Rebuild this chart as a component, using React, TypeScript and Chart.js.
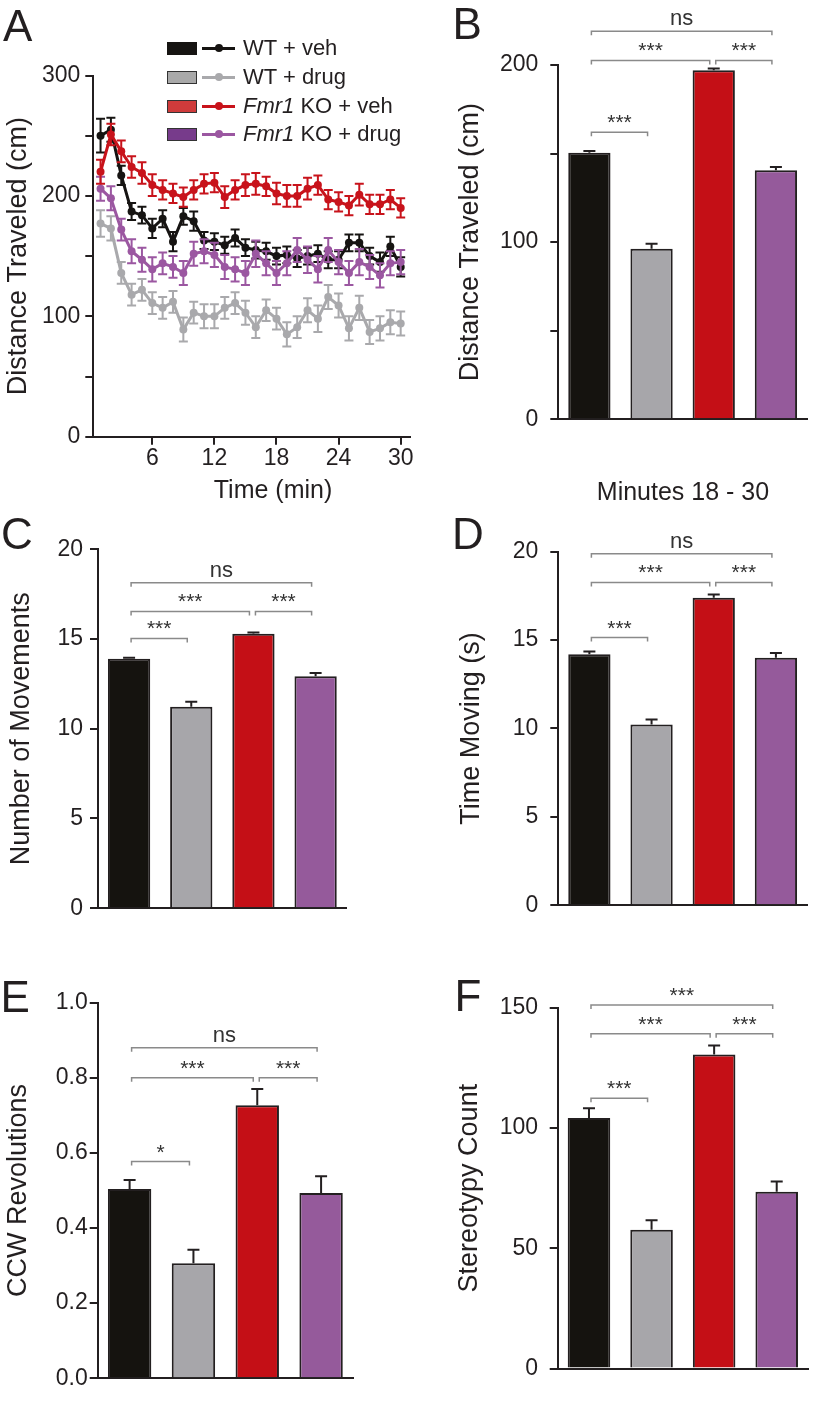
import React, { useEffect, useRef } from 'react';
import { Chart, registerables } from 'chart.js';

Chart.register(...registerables);

const FONT = '"Liberation Sans", Arial, Helvetica, sans-serif';
const INK = '#231f20';

// ---------- shared ----------
const groups = ['WT + veh', 'WT + drug', 'Fmr1 KO + veh', 'Fmr1 KO + drug'];
const barColors = ['#15130f', '#a7a6aa', '#c40f16', '#955a9b'];
const lineColors = ['#161412', '#a9a9ac', '#c8131b', '#9b57a1'];
const swatchColors = ['#161412', '#a9a9a9', '#cf3b3b', '#773b8b'];

// ---------- panel A : distance per minute ----------
const minutes = [1, 2, 3, 4, 5, 6, 7, 8, 9, 10, 11, 12, 13, 14, 15, 16, 17, 18, 19, 20, 21, 22, 23, 24, 25, 26, 27, 28, 29, 30];
const timeTicks = [6, 12, 18, 24, 30];
const distTicksA = [0, 50, 100, 150, 200, 250, 300];
const wtVeh = [250, 255, 217, 187, 184, 173, 181, 162, 183, 179, 163, 162, 159, 165, 157, 155, 154, 150, 151, 148, 150, 152, 147, 147, 161, 161, 150, 145, 158, 141];
const wtVehErr = [14, 10, 8, 7, 7, 8, 7, 8, 7, 8, 7, 7, 7, 7, 7, 7, 7, 7, 7, 7, 7, 7, 7, 7, 7, 7, 7, 8, 8, 8];
const wtDrug = [177, 173, 136, 118, 122, 111, 107, 112, 89, 103, 100, 100, 107, 111, 103, 91, 105, 98, 85, 91, 105, 98, 116, 109, 90, 107, 87, 90, 95, 94];
const wtDrugErr = [11, 10, 9, 9, 9, 9, 9, 9, 10, 9, 10, 10, 9, 9, 10, 9, 9, 9, 10, 9, 10, 11, 10, 10, 10, 10, 10, 10, 10, 10];
const koVeh = [220, 251, 237, 224, 219, 209, 205, 202, 199, 205, 210, 211, 199, 205, 209, 210, 208, 202, 200, 200, 206, 209, 197, 195, 192, 201, 193, 193, 197, 190];
const koVehErr = [10, 9, 9, 9, 9, 9, 8, 8, 8, 8, 8, 8, 9, 8, 9, 9, 8, 9, 9, 9, 9, 8, 8, 8, 8, 9, 8, 8, 8, 8];
const koDrug = [206, 198, 172, 154, 147, 139, 144, 141, 136, 152, 154, 151, 141, 139, 136, 152, 144, 136, 144, 155, 147, 139, 155, 145, 136, 145, 141, 134, 144, 145];
const koDrugErr = [10, 10, 9, 10, 10, 10, 9, 9, 10, 10, 10, 10, 10, 10, 10, 11, 10, 10, 10, 10, 11, 11, 10, 10, 10, 11, 10, 10, 10, 10];

// ---------- panel B : distance traveled, minutes 18-30 ----------
const distance = [150.5, 96.3, 197, 140.6];
const distanceErr = [1, 2.7, 1, 1.8];
const distTicksB = [0, 50, 100, 150, 200];
const distanceSig = [
  { from: 0, to: 3, at: 219, label: 'ns' },
  { from: 0, to: 2, at: 202.6, label: '***' },
  { from: 2, to: 3, at: 202.6, label: '***' },
  { from: 0, to: 1, at: 162, label: '***' },
];

// ---------- panel C : number of movements ----------
const movements = [13.9, 11.23, 15.3, 12.93];
const movementsErr = [0.06, 0.27, 0.06, 0.18];
const ticks20 = [0, 5, 10, 15, 20];
const movementsSig = [
  { from: 0, to: 3, at: 18.14, label: 'ns' },
  { from: 0, to: 2, at: 16.54, label: '***' },
  { from: 2, to: 3, at: 16.54, label: '***' },
  { from: 0, to: 1, at: 15.03, label: '***' },
];

// ---------- panel D : time moving ----------
const timeMoving = [14.2, 10.23, 17.4, 14.0];
const timeMovingErr = [0.15, 0.27, 0.18, 0.27];
const timeMovingSig = [
  { from: 0, to: 3, at: 19.88, label: 'ns' },
  { from: 0, to: 2, at: 18.26, label: '***' },
  { from: 2, to: 3, at: 18.26, label: '***' },
  { from: 0, to: 1, at: 15.14, label: '***' },
];

// ---------- panel E : CCW revolutions ----------
const ccw = [0.504, 0.306, 0.727, 0.493];
const ccwErr = [0.024, 0.036, 0.043, 0.045];
const ccwTicks = [0, 0.2, 0.4, 0.6, 0.8, 1.0];
const ccwSig = [
  { from: 0, to: 3, at: 0.88, label: 'ns' },
  { from: 0, to: 2, at: 0.8, label: '***' },
  { from: 2, to: 3, at: 0.8, label: '***' },
  { from: 0, to: 1, at: 0.577, label: '*' },
];

// ---------- panel F : stereotypy count ----------
const stereotypy = [104.2, 57.7, 130.6, 73.5];
const stereotypyErr = [4, 4, 3.7, 4.3];
const stereoTicks = [0, 50, 100, 150];
const stereotypySig = [
  { from: 0, to: 3, at: 151.1, label: '***' },
  { from: 0, to: 2, at: 139.2, label: '***' },
  { from: 2, to: 3, at: 139.2, label: '***' },
  { from: 0, to: 1, at: 112.4, label: '***' },
];

type Sig = { from: number; to: number; at: number; label: string };
type Box = { x: number; y: number; w: number; h: number; padTop: number; padRight: number; padBottom: number; yWidth: number; xHeight: number };

function yAxis(ticksArr: number[], label: (v: number) => string, title: string, tickPad: number, titlePad: number, width: number) {
  return {
    type: 'linear' as const,
    min: ticksArr[0],
    max: ticksArr[ticksArr.length - 1],
    afterBuildTicks: (s: any) => {
      s.ticks = ticksArr.map((v) => ({ value: v }));
    },
    afterFit: (s: any) => {
      s.width = width;
    },
    ticks: {
      callback: (v: any) => label(Number(v)),
      font: { family: FONT, size: 23 },
      color: INK,
      padding: tickPad,
      autoSkip: false,
    },
    grid: { display: true, drawOnChartArea: false, drawTicks: true, tickLength: 8, color: INK, lineWidth: 2 },
    border: { display: true, color: INK, width: 2 },
    title: { display: true, text: title, font: { family: FONT, size: 27 }, color: INK, padding: { top: titlePad, bottom: 0 } },
  };
}

function sigPlugin(brackets: Sig[]) {
  return {
    id: 'sig',
    afterDraw(chart: any) {
      const ctx = chart.ctx;
      const meta = chart.getDatasetMeta(0);
      const ys = chart.scales.y;
      ctx.save();
      ctx.strokeStyle = '#8a8a8a';
      ctx.lineWidth = 1.5;
      ctx.fillStyle = '#333';
      ctx.textAlign = 'center';
      ctx.textBaseline = 'alphabetic';
      for (const b of brackets) {
        const x1 = meta.data[b.from].x + 2;
        const x2 = meta.data[b.to].x - 4;
        const y = ys.getPixelForValue(b.at);
        ctx.beginPath();
        ctx.moveTo(x1, y + 4);
        ctx.lineTo(x1, y);
        ctx.lineTo(x2, y);
        ctx.lineTo(x2, y + 4);
        ctx.stroke();
        const ns = b.label === 'ns';
        ctx.font = `${ns ? 22 : 21}px ${FONT}`;
        ctx.fillText(b.label, (x1 + x2) / 2, y - (ns ? 6 : 3));
      }
      ctx.restore();
    },
  };
}

function barErrPlugin(values: number[], errors: number[]) {
  return {
    id: 'barErr',
    afterDatasetsDraw(chart: any) {
      const ctx = chart.ctx;
      const meta = chart.getDatasetMeta(0);
      const ys = chart.scales.y;
      ctx.save();
      ctx.strokeStyle = INK;
      ctx.lineWidth = 2;
      meta.data.forEach((el: any, i: number) => {
        const top = ys.getPixelForValue(values[i] + errors[i]);
        ctx.beginPath();
        ctx.moveTo(el.x, el.y);
        ctx.lineTo(el.x, top);
        ctx.moveTo(el.x - 6, top);
        ctx.lineTo(el.x + 6, top);
        ctx.stroke();
      });
      ctx.restore();
    },
  };
}

function ChartBox({ box, build }: { box: Box; build: (c: HTMLCanvasElement) => Chart }) {
  const ref = useRef<HTMLCanvasElement>(null);
  useEffect(() => {
    const ch = build(ref.current as HTMLCanvasElement);
    return () => ch.destroy();
  }, []);
  return (
    <canvas
      ref={ref}
      width={box.w}
      height={box.h}
      style={{ position: 'absolute', left: box.x, top: box.y, width: box.w, height: box.h }}
    />
  );
}

type BarSpec = {
  box: Box;
  values: number[];
  errors: number[];
  ticksArr: number[];
  label: (v: number) => string;
  title: string;
  tickPad: number;
  titlePad: number;
  sig: Sig[];
};

function BarPanel({ spec }: { spec: BarSpec }) {
  const { box } = spec;
  const build = (c: HTMLCanvasElement) =>
    new Chart(c, {
      type: 'bar',
      data: {
        labels: groups,
        datasets: [
          {
            data: spec.values,
            backgroundColor: barColors,
            borderColor: INK,
            borderWidth: 2,
            categoryPercentage: 1,
            barPercentage: 0.68,
          },
        ],
      },
      options: {
        responsive: false,
        maintainAspectRatio: false,
        animation: false,
        devicePixelRatio: 1,
        layout: { padding: { top: box.padTop, right: box.padRight, bottom: box.padBottom, left: 0 } },
        plugins: { legend: { display: false }, tooltip: { enabled: false } },
        scales: {
          x: {
            type: 'category',
            ticks: { display: false },
            grid: { display: false },
            border: { display: true, color: INK, width: 2 },
            afterFit: (s: any) => {
              s.height = box.xHeight;
            },
          },
          y: yAxis(spec.ticksArr, spec.label, spec.title, spec.tickPad, spec.titlePad, box.yWidth) as any,
        },
      },
      plugins: [barErrPlugin(spec.values, spec.errors), sigPlugin(spec.sig)],
    });
  return <ChartBox box={box} build={build} />;
}

function LinePanel() {
  const box: Box = { x: 0, y: 40, w: 420, h: 470, padTop: 35.5, padRight: 10, padBottom: 4, yWidth: 93.3, xHeight: 69.3 };
  const series = [
    { label: groups[0], vals: wtVeh, err: wtVehErr, color: lineColors[0], order: 2 },
    { label: groups[1], vals: wtDrug, err: wtDrugErr, color: lineColors[1], order: 3 },
    { label: groups[2], vals: koVeh, err: koVehErr, color: lineColors[2], order: 0 },
    { label: groups[3], vals: koDrug, err: koDrugErr, color: lineColors[3], order: 1 },
  ];
  const errPlugin = {
    id: 'lineErr',
    beforeDatasetDraw(chart: any, args: any) {
      const s = series[args.index];
      const ctx = chart.ctx;
      const ys = chart.scales.y;
      ctx.save();
      ctx.strokeStyle = s.color;
      ctx.lineWidth = 2;
      args.meta.data.forEach((p: any, i: number) => {
        const hi = ys.getPixelForValue(s.vals[i] + s.err[i]);
        const lo = ys.getPixelForValue(s.vals[i] - s.err[i]);
        ctx.beginPath();
        ctx.moveTo(p.x, lo);
        ctx.lineTo(p.x, hi);
        ctx.moveTo(p.x - 4.5, hi);
        ctx.lineTo(p.x + 4.5, hi);
        ctx.moveTo(p.x - 4.5, lo);
        ctx.lineTo(p.x + 4.5, lo);
        ctx.stroke();
      });
      ctx.restore();
    },
  };
  const build = (c: HTMLCanvasElement) =>
    new Chart(c, {
      type: 'line',
      data: {
        datasets: series.map((s) => ({
          label: s.label,
          data: minutes.map((m, i) => ({ x: m, y: s.vals[i] })),
          borderColor: s.color,
          backgroundColor: s.color,
          pointBackgroundColor: s.color,
          pointBorderWidth: 0,
          pointRadius: 4,
          borderWidth: 3,
          tension: 0,
          order: s.order,
        })),
      },
      options: {
        responsive: false,
        maintainAspectRatio: false,
        animation: false,
        devicePixelRatio: 1,
        layout: { padding: { top: box.padTop, right: box.padRight, bottom: box.padBottom, left: 0 } },
        plugins: { legend: { display: false }, tooltip: { enabled: false } },
        scales: {
          x: {
            type: 'linear',
            min: 0.3,
            max: 30.9,
            afterBuildTicks: (s: any) => {
              s.ticks = timeTicks.map((v) => ({ value: v }));
            },
            afterFit: (s: any) => {
              s.height = box.xHeight;
            },
            ticks: { font: { family: FONT, size: 23 }, color: INK, padding: 0, autoSkip: false, maxRotation: 0 },
            grid: { display: true, drawOnChartArea: false, drawTicks: true, tickLength: 8, color: INK, lineWidth: 2 },
            border: { display: true, color: INK, width: 2 },
          },
          y: yAxis(distTicksA, (v) => (v % 100 === 0 ? String(v) : ''), 'Distance Traveled (cm)', 5, 2, box.yWidth) as any,
        },
      },
      plugins: [errPlugin],
    });
  return <ChartBox box={box} build={build} />;
}

function Letter({ ch, x, y }: { ch: string; x: number; y: number }) {
  return (
    <div style={{ position: 'absolute', left: x, top: y, fontSize: 44, lineHeight: '44px', fontFamily: FONT, color: INK, zIndex: 2 }}>
      {ch}
    </div>
  );
}

function Legend() {
  const centers = [48.4, 77.4, 106, 134.4];
  return (
    <>
      {groups.map((g, i) => {
        const cy = centers[i];
        const parts = g.startsWith('Fmr1') ? (
          <>
            <i>Fmr1</i>
            {g.slice(4)}
          </>
        ) : (
          g
        );
        return (
          <React.Fragment key={g}>
            <div
              style={{
                position: 'absolute',
                left: 167,
                top: cy - 6.5,
                width: 30,
                height: 13,
                boxSizing: 'border-box',
                background: swatchColors[i],
                border: `1.5px solid ${i === 0 ? swatchColors[0] : '#333'}`,
                zIndex: 2,
              }}
            />
            <div style={{ position: 'absolute', left: 202, top: cy - 1.5, width: 33, height: 3, background: lineColors[i], zIndex: 2 }} />
            <div
              style={{ position: 'absolute', left: 214.5, top: cy - 4, width: 8, height: 8, borderRadius: '50%', background: lineColors[i], zIndex: 2 }}
            />
            <div
              style={{
                position: 'absolute',
                left: 243,
                top: cy + 7.6 - 18.6,
                fontSize: 22,
                lineHeight: '22px',
                fontFamily: FONT,
                color: INK,
                whiteSpace: 'nowrap',
                zIndex: 2,
              }}
            >
              {parts}
            </div>
          </React.Fragment>
        );
      })}
    </>
  );
}

const specB: BarSpec = {
  box: { x: 450, y: 0, w: 363, h: 445, padTop: 65, padRight: 6, padBottom: 0, yWidth: 108.3, xHeight: 7.3 },
  values: distance,
  errors: distanceErr,
  ticksArr: distTicksB,
  label: (v) => (v % 100 === 0 ? String(v) : ''),
  title: 'Distance Traveled (cm)',
  tickPad: 12,
  titlePad: 4,
  sig: distanceSig,
};
const specC: BarSpec = {
  box: { x: 0, y: 520, w: 353, h: 409, padTop: 29.3, padRight: 6.3, padBottom: 0, yWidth: 98, xHeight: 8 },
  values: movements,
  errors: movementsErr,
  ticksArr: ticks20,
  label: (v) => String(v),
  title: 'Number of Movements',
  tickPad: 7,
  titlePad: 5,
  sig: movementsSig,
};
const specD: BarSpec = {
  box: { x: 450, y: 520, w: 363, h: 411, padTop: 31.7, padRight: 6, padBottom: 0, yWidth: 108.3, xHeight: 7.7 },
  values: timeMoving,
  errors: timeMovingErr,
  ticksArr: ticks20,
  label: (v) => String(v),
  title: 'Time Moving (s)',
  tickPad: 12,
  titlePad: 5,
  sig: timeMovingSig,
};
const specE: BarSpec = {
  box: { x: 0, y: 960, w: 360, h: 434, padTop: 42.7, padRight: 7, padBottom: 0, yWidth: 97.7, xHeight: 7.3 },
  values: ccw,
  errors: ccwErr,
  ticksArr: ccwTicks,
  label: (v) => v.toFixed(1),
  title: 'CCW Revolutions',
  tickPad: 2,
  titlePad: 2,
  sig: ccwSig,
};
const specF: BarSpec = {
  box: { x: 450, y: 960, w: 363, h: 434, padTop: 47.7, padRight: 5, padBottom: 0, yWidth: 107.7, xHeight: 7.3 },
  values: stereotypy,
  errors: stereotypyErr,
  ticksArr: stereoTicks,
  label: (v) => String(v),
  title: 'Stereotypy Count',
  tickPad: 11.6,
  titlePad: 3,
  sig: stereotypySig,
};

export default function App() {
  return (
    <div style={{ position: 'absolute', left: 0, top: 0, width: 813, height: 1402, background: '#fff', overflow: 'hidden', fontFamily: FONT, color: INK }}>
      <LinePanel />
      <BarPanel spec={specB} />
      <BarPanel spec={specC} />
      <BarPanel spec={specD} />
      <BarPanel spec={specE} />
      <BarPanel spec={specF} />
      <Legend />
      <div style={{ position: 'absolute', left: 173, top: 476.8, width: 200, textAlign: 'center', fontSize: 25, lineHeight: '25px', zIndex: 2 }}>Time (min)</div>
      <div style={{ position: 'absolute', left: 583, top: 478.8, width: 200, textAlign: 'center', fontSize: 25, lineHeight: '25px', zIndex: 2 }}>Minutes 18 - 30</div>
      <Letter ch="A" x={3} y={3.8} />
      <Letter ch="B" x={452.5} y={2.1} />
      <Letter ch="C" x={1} y={511.8} />
      <Letter ch="D" x={452} y={511.8} />
      <Letter ch="E" x={0.5} y={974.5} />
      <Letter ch="F" x={454.5} y={974} />
    </div>
  );
}
